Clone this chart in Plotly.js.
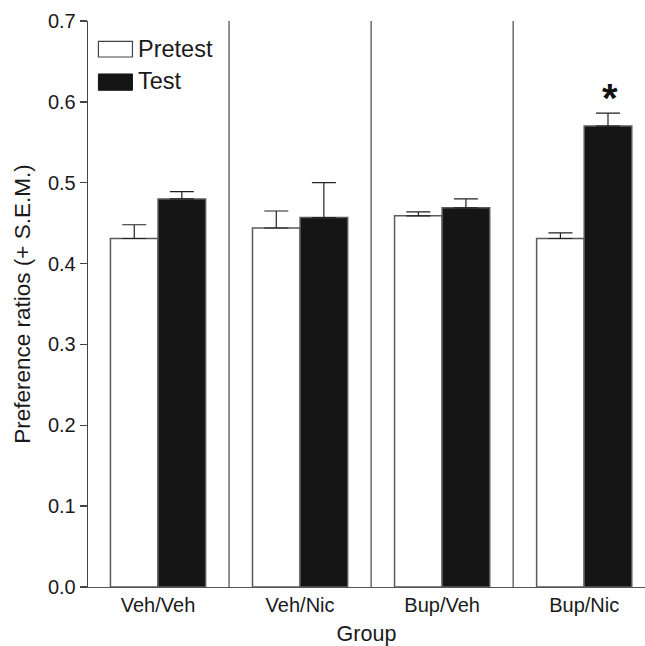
<!DOCTYPE html>
<html>
<head>
<meta charset="utf-8">
<script src="https://cdn.plot.ly/plotly-3.0.1.min.js"></script>
<style>html,body{margin:0;padding:0;background:#fff;}#chart{width:645px;height:646px;}</style>
</head>
<body>
<div id="chart"></div>
<script>
// Data
var groups = ["Veh/Veh", "Veh/Nic", "Bup/Veh", "Bup/Nic"];
var pretest = [0.431, 0.444, 0.459, 0.431];
var pretestSEM = [0.017, 0.021, 0.005, 0.007];
var test = [0.480, 0.457, 0.469, 0.570];
var testSEM = [0.009, 0.043, 0.011, 0.016];
var seriesNames = ["Pretest", "Test"];
var yTicks = [0, 0.1, 0.2, 0.3, 0.4, 0.5, 0.6, 0.7];
var yTickLabels = ["0.0", "0.1", "0.2", "0.3", "0.4", "0.5", "0.6", "0.7"];
var sigMark = {group: "Bup/Nic", value: 0.613, text: "*"};

var FONT = "Liberation Sans, Arial, Helvetica, sans-serif";
var zeros = groups.map(function(){return 0;});

var traces = [
  {
    type: "bar", name: seriesNames[0], x: groups, y: pretest,
    marker: {color: "#ffffff", line: {color: "#5a5a5a", width: 1.5}},
    error_y: {type: "data", symmetric: false, array: pretestSEM, arrayminus: zeros,
              color: "#222", thickness: 1.2, width: 12},
    showlegend: false, hoverinfo: "none"
  },
  {
    type: "bar", name: seriesNames[1], x: groups, y: test,
    marker: {color: "#151515", line: {color: "#5a5a5a", width: 1.5}},
    error_y: {type: "data", symmetric: false, array: testSEM, arrayminus: zeros,
              color: "#222", thickness: 1.2, width: 12},
    showlegend: false, hoverinfo: "none"
  }
];

var shapes = [];
for (var i = 0; i < groups.length - 1; i++) {
  shapes.push({type: "line", xref: "x", yref: "paper", x0: i + 0.5, x1: i + 0.5, y0: 0, y1: 1,
               line: {color: "#555", width: 1.3}});
}
// legend swatches
shapes.push({type: "rect", xref: "paper", yref: "paper", x0: 0.0187, x1: 0.0798, y0: 0.9364, y1: 0.9641,
             fillcolor: "#ffffff", line: {color: "#444", width: 1.2}});
shapes.push({type: "rect", xref: "paper", yref: "paper", x0: 0.0187, x1: 0.0798, y0: 0.8776, y1: 0.9064,
             fillcolor: "#151515", line: {color: "#151515", width: 1}});

var annotations = [
  {xref: "paper", yref: "paper", x: 0.086, y: 0.9509, xanchor: "left", yanchor: "middle",
   text: seriesNames[0], showarrow: false, font: {family: FONT, size: 23.5, color: "#1a1a1a"}},
  {xref: "paper", yref: "paper", x: 0.086, y: 0.8935, xanchor: "left", yanchor: "middle",
   text: seriesNames[1], showarrow: false, font: {family: FONT, size: 23.5, color: "#1a1a1a"}},
  {xref: "x", yref: "y", x: sigMark.group, y: sigMark.value, xshift: 26, yshift: -7,
   xanchor: "center", yanchor: "middle", text: "<b>" + sigMark.text + "</b>", showarrow: false,
   font: {family: FONT, size: 40, color: "#111"}}
];

var layout = {
  width: 645, height: 646,
  margin: {l: 88, r: 0, t: 21, b: 59, pad: 0},
  paper_bgcolor: "#fff", plot_bgcolor: "#fff",
  barmode: "group", bargap: 0.33, bargroupgap: 0,
  showlegend: false,
  font: {family: FONT, color: "#1a1a1a"},
  xaxis: {
    type: "category", range: [-0.493, 3.428], showgrid: false, zeroline: false,
    showline: true, linecolor: "#555", linewidth: 1.3, ticks: "",
    tickfont: {family: FONT, size: 20, color: "#1a1a1a"},
    title: {text: "Group", font: {family: FONT, size: 21.5, color: "#1a1a1a"}, standoff: 11},
    automargin: false, fixedrange: true
  },
  yaxis: {
    range: [0, 0.7], showgrid: false, zeroline: false,
    showline: true, linecolor: "#444", linewidth: 1.3,
    ticks: "outside", ticklen: 7, tickwidth: 1.3, tickcolor: "#444",
    tickvals: yTicks, ticktext: yTickLabels,
    tickfont: {family: FONT, size: 20, color: "#1a1a1a"},
    title: {text: "Preference ratios (+ S.E.M.)", font: {family: FONT, size: 22.5, color: "#1a1a1a"}, standoff: 11},
    automargin: false, fixedrange: true
  },
  shapes: shapes,
  annotations: annotations
};

Plotly.newPlot("chart", traces, layout, {staticPlot: true, displayModeBar: false});
</script>
</body>
</html>
